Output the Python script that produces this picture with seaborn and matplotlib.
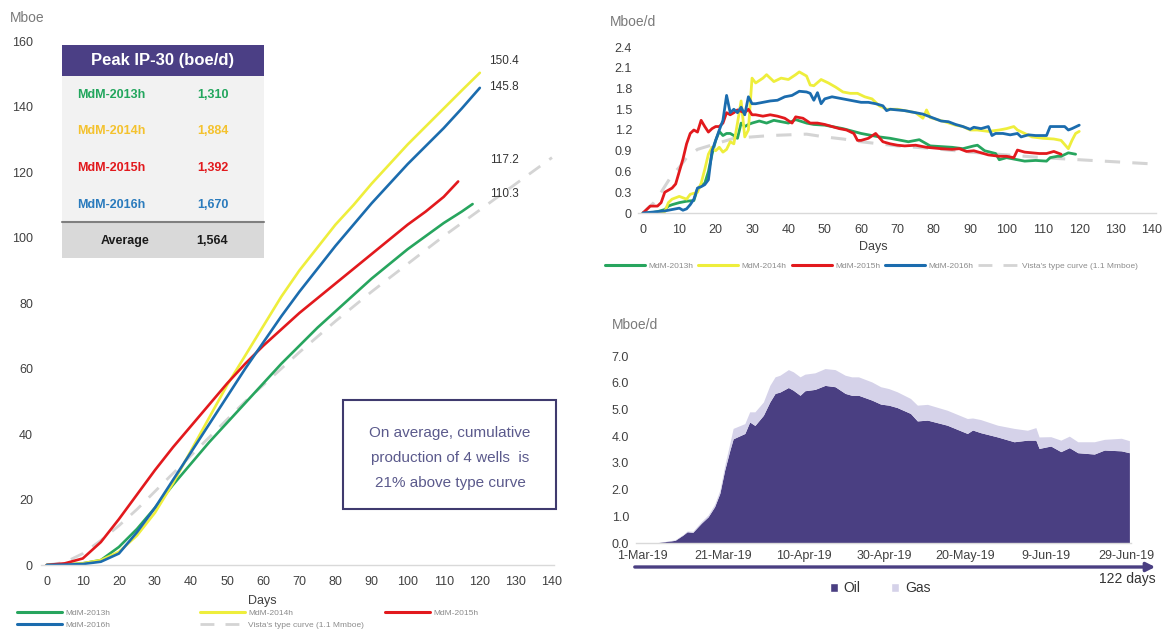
import matplotlib
matplotlib.use("Agg")
import matplotlib.pyplot as plt
import seaborn as sns
import pandas as pd
from matplotlib.lines import Line2D
from matplotlib.patches import Rectangle, Patch, FancyArrowPatch

# ---------------- data ----------------
wells = ["MdM-2013h", "MdM-2014h", "MdM-2015h", "MdM-2016h"]
type_label = "Vista's type curve (1.1 Mmboe)"
peak_ip30 = ["1,310", "1,884", "1,392", "1,670"]
avg_ip30 = "1,564"
end_labels = ["150.4", "145.8", "117.2", "110.3"]

# cumulative production (day, Mboe)
cum_2013 = [(0,0),(5,0.1),(10,0.5),(15,1.5),(20,5.5),(25,11),(30,17.5),(35,24.5),(40,31),(45,37.5),
            (50,43.5),(55,49.5),(60,55.5),(65,61.5),(70,67),(75,72.5),(80,77.5),(85,82.5),(90,87.5),
            (95,92),(100,96.5),(105,100.5),(110,104.5),(115,108),(118,110.3)]
cum_2014 = [(0,0),(5,0.2),(10,0.5),(15,1.5),(20,4),(25,9),(30,16),(35,25),(40,35),(45,45),(50,55),
            (55,64),(60,73),(65,82),(70,90),(75,97),(80,104),(85,110),(90,116.5),(95,122.5),
            (100,128.5),(105,134),(110,139.5),(115,145),(120,150.4)]
cum_2015 = [(0,0),(5,0.5),(10,2),(15,7),(20,14),(25,21.5),(30,29),(35,36),(40,42.5),(45,49),
            (50,55.5),(55,61.5),(60,67),(65,72),(70,77),(75,81.5),(80,86),(85,90.5),(90,95),
            (95,99.5),(100,104),(105,108),(110,112.5),(114,117.2)]
cum_2016 = [(0,0),(5,0.1),(10,0.3),(15,1),(20,3.5),(25,10),(30,17.5),(35,26),(40,34.5),(45,43),
            (50,51.5),(55,60),(60,68),(65,76),(70,83.5),(75,90.5),(80,97.5),(85,104),(90,110.5),
            (95,116.5),(100,122.5),(105,128),(110,133.5),(115,139.5),(120,145.8)]
cum_type = [(0,0),(5,0.8),(10,3.5),(15,7.5),(20,12),(25,17),(30,22.5),(35,28),(40,33.5),(45,39),
            (50,44.5),(55,50),(60,55),(70,65),(80,74.5),(90,83.5),(100,92),(110,100.5),(120,108.5),
            (130,116.5),(140,124.5)]

# daily rate (day, Mboe/d)
rate_2013 = [(0,0),(2,0),(4,0.02),(6,0.05),(7,0.1),(8,0.12),(10,0.15),(12,0.17),(14,0.18),(15,0.35),
             (16,0.4),(17,0.43),(18,0.6),(19,0.85),(20,1.05),(21,1.18),(22,1.12),(23,1.15),(24,1.15),
             (25,1.12),(26,1.08),(27,1.3),(28,1.25),(29,1.28),(30,1.3),(32,1.33),(34,1.3),(36,1.34),
             (38,1.32),(40,1.3),(42,1.35),(45,1.3),(47,1.28),(50,1.27),(55,1.22),(60,1.15),(65,1.1),
             (68,1.08),(73,1.03),(76,1.06),(79,0.97),(82,0.96),(85,0.95),(88,0.93),(91,0.97),(92,0.98),
             (94,0.9),(97,0.86),(98,0.77),(100,0.8),(102,0.78),(105,0.75),(108,0.76),(111,0.75),
             (112,0.8),(114,0.82),(115,0.82),(117,0.87),(118,0.86),(119,0.85)]
rate_2014 = [(0,0),(2,0),(4,0),(6,0.02),(7,0.15),(8,0.2),(10,0.24),(11,0.22),(12,0.2),(13,0.27),
             (15,0.3),(16,0.43),(17,0.63),(18,0.85),(19,0.95),(20,0.9),(21,0.95),(22,0.88),(23,0.92),
             (24,1.03),(25,1.0),(26,1.3),(27,1.62),(28,1.1),(29,1.2),(30,1.95),(31,1.88),(33,1.95),
             (34,2.0),(36,1.9),(38,1.95),(40,1.93),(42,2.0),(43,2.04),(45,1.98),(46,1.85),(47,1.84),
             (49,1.93),(51,1.88),(53,1.82),(55,1.75),(57,1.73),(59,1.73),(61,1.68),(63,1.65),(65,1.55),
             (67,1.5),(70,1.5),(73,1.47),(75,1.45),(77,1.37),(78,1.49),(79,1.38),(81,1.35),(83,1.32),
             (86,1.27),(88,1.25),(90,1.2),(92,1.2),(95,1.18),(98,1.2),(100,1.22),(102,1.25),(103,1.2),
             (105,1.15),(107,1.1),(110,1.08),(113,1.07),(115,1.05),(117,0.93),(118,1.05),(119,1.15),
             (120,1.18)]
rate_2015 = [(0,0),(1,0.05),(2,0.1),(4,0.1),(5,0.15),(6,0.3),(7,0.33),(8,0.36),(9,0.42),(10,0.6),
             (11,0.78),(12,1.0),(13,1.15),(14,1.2),(15,1.17),(16,1.34),(17,1.25),(18,1.17),(19,1.22),
             (20,1.25),(21,1.25),(22,1.3),(23,1.45),(24,1.42),(25,1.45),(26,1.49),(27,1.47),(28,1.45),
             (29,1.5),(30,1.42),(31,1.42),(33,1.4),(35,1.42),(37,1.4),(39,1.37),(41,1.3),(42,1.39),
             (44,1.37),(46,1.3),(48,1.3),(50,1.28),(52,1.25),(54,1.22),(56,1.2),(58,1.15),(59,1.05),
             (60,1.05),(62,1.08),(64,1.15),(66,1.03),(68,1.0),(70,0.98),(72,0.97),(75,0.98),(78,0.95),
             (80,0.94),(82,0.93),(85,0.92),(87,0.93),(89,0.89),(91,0.9),(93,0.87),(95,0.84),(98,0.82),
             (100,0.82),(102,0.8),(103,0.91),(105,0.88),(107,0.87),(109,0.86),(111,0.86),(113,0.89),
             (115,0.85)]
rate_2016 = [(0,0),(2,0.01),(4,0.02),(6,0.03),(8,0.05),(10,0.07),(11,0.04),(12,0.06),(13,0.12),
             (14,0.2),(15,0.36),(16,0.38),(17,0.41),(18,0.48),(19,0.9),(20,1.05),(21,1.2),(22,1.34),
             (23,1.7),(24,1.45),(25,1.5),(26,1.45),(27,1.53),(28,1.42),(29,1.68),(30,1.58),(31,1.58),
             (33,1.6),(35,1.62),(37,1.63),(39,1.68),(41,1.7),(43,1.76),(45,1.75),(46,1.73),(47,1.63),
             (48,1.74),(49,1.58),(50,1.65),(52,1.68),(54,1.66),(57,1.63),(60,1.6),(62,1.6),(64,1.58),
             (66,1.55),(67,1.48),(68,1.5),(70,1.49),(72,1.48),(75,1.45),(77,1.43),(80,1.37),(82,1.33),
             (84,1.32),(86,1.28),(88,1.25),(90,1.21),(91,1.24),(93,1.22),(95,1.25),(96,1.12),(97,1.15),
             (99,1.15),(101,1.13),(103,1.15),(104,1.1),(106,1.13),(108,1.12),(110,1.12),(111,1.12),
             (112,1.25),(114,1.25),(116,1.25),(117,1.2),(118,1.22),(120,1.27)]
rate_type = [(0,0),(3,0.15),(5,0.3),(8,0.55),(10,0.66),(12,0.8),(15,0.92),(20,1.0),(25,1.08),(30,1.1),
             (35,1.12),(40,1.13),(45,1.14),(50,1.1),(55,1.07),(60,1.03),(70,0.97),(80,0.93),(90,0.88),
             (100,0.84),(110,0.8),(120,0.77),(130,0.74),(140,0.71)]

# field production from 1-Mar-19 (day, oil Mboe/d, gas Mboe/d)
field_days = [0, 4, 6, 8, 10, 11, 12.4, 14.5, 16.2, 17.8, 19.1, 20.3, 21.6, 22.4, 25.3, 26.5, 27.8,
              29.9, 31.5, 32.8, 34, 36.1, 37.3, 39, 40.2, 42.7, 45.2, 47.7, 50.2, 51.8, 53.5, 56.8,
              59, 61, 63.1, 66.4, 68.1, 70.6, 75.5, 80.5, 81.8, 83.8, 88, 92.1, 95.4, 97.5, 98.3,
              101.2, 103.7, 105.8, 107.9, 112, 114.5, 118.7, 120.7]
oil = [0, 0.02, 0.06, 0.1, 0.3, 0.42, 0.4, 0.74, 0.98, 1.36, 1.86, 2.73, 3.48, 3.9, 4.1, 4.53, 4.4,
       4.78, 5.28, 5.6, 5.65, 5.82, 5.72, 5.53, 5.7, 5.75, 5.9, 5.85, 5.6, 5.53, 5.53, 5.35,
       5.2, 5.16, 5.07, 4.85, 4.57, 4.6, 4.41, 4.1, 4.23, 4.13, 3.97, 3.79, 3.85, 3.85, 3.54,
       3.63, 3.42, 3.57, 3.38, 3.33, 3.48, 3.45, 3.38]
gas = [0, 0, 0.01, 0.02, 0.02, 0.03, 0.04, 0.06, 0.07, 0.09, 0.12, 0.17, 0.27, 0.39, 0.37, 0.38, 0.51,
       0.5, 0.62, 0.62, 0.63, 0.67, 0.69, 0.69, 0.62, 0.62, 0.63, 0.64, 0.68, 0.69, 0.69, 0.68,
       0.65, 0.62, 0.59, 0.56, 0.59, 0.59, 0.56, 0.56, 0.45, 0.49, 0.44, 0.5, 0.37, 0.47, 0.43,
       0.35, 0.43, 0.43, 0.41, 0.46, 0.4, 0.47, 0.45]
date_ticks = [0, 20, 40, 60, 80, 100, 120]
date_labels = ["1-Mar-19", "21-Mar-19", "10-Apr-19", "30-Apr-19", "20-May-19", "9-Jun-19", "29-Jun-19"]

# ---------------- style ----------------
sns.set_theme(style="white")
plt.rcParams["font.family"] = ["Liberation Sans", "DejaVu Sans"]

well_colors = ["#27a55e", "#eeee3c", "#e2191d", "#1b6cae"]
text_colors = ["#22a65d", "#f4c22e", "#e2191d", "#2a7bbd"]
type_color = "#d4d4d4"
purple = "#4a3f82"
gas_color = "#d5d2e9"
tick_color = "#404040"

W, H = 1166, 630
fig = plt.figure(figsize=(W / 100, H / 100), dpi=100)


def fx(px):
    return px / W


def fy(py):
    return 1 - py / H


def add_ax(l, t, r, b):
    return fig.add_axes([fx(l), fy(b), (r - l) / W, (b - t) / H])


def to_df(pairs):
    d, v = zip(*pairs)
    return pd.DataFrame({"day": d, "val": v})


def style_ax(ax, xpad, ypad):
    for s in ["top", "right", "left"]:
        ax.spines[s].set_visible(False)
    ax.spines["bottom"].set_color("#d9d9d9")
    ax.spines["bottom"].set_linewidth(1.0)
    ax.tick_params(axis="both", length=0, labelsize=9, colors=tick_color)
    ax.tick_params(axis="x", pad=xpad)
    ax.tick_params(axis="y", pad=ypad)
    ax.set_xlabel("")
    ax.set_ylabel("")
    ax.grid(False)


# ---------------- left: cumulative ----------------
axL = add_ax(41.3, 41.4, 553.8, 565)
cums = [cum_2013, cum_2014, cum_2015, cum_2016]
sns.lineplot(data=to_df(cum_type), x="day", y="val", color=type_color, lw=2.0, ax=axL,
             estimator=None, sort=False)
axL.lines[-1].set_dashes([5, 4])
for pairs, c in zip(cums, well_colors):
    sns.lineplot(data=to_df(pairs), x="day", y="val", color=c, lw=1.9, ax=axL,
                 estimator=None, sort=False)
axL.set_xlim(-1.5, 140.5)
axL.set_ylim(0, 160)
axL.set_xticks(range(0, 141, 10))
axL.set_yticks(range(0, 161, 20))
style_ax(axL, 8, 6)

label_y = [154.0, 146.1, 123.8, 113.4]
for txt, yy in zip(end_labels, label_y):
    axL.text(126.7, yy, txt, ha="center", va="center", fontsize=8.5, color="#333333")

fig.text(fx(10), fy(18), "Mboe", ha="left", va="center", fontsize=10, color="#7a7a7a")
fig.text(fx(262), fy(601), "Days", ha="center", va="center", fontsize=9, color="#404040")

# legend items of left chart
h_wells = [Line2D([], [], color=c, lw=2.2) for c in well_colors]
h_type = Line2D([], [], color=type_color, lw=2.0, dashes=[5, 4])
left_items = [(h_wells[0], wells[0], 17, 613), (h_wells[1], wells[1], 200, 613),
              (h_wells[2], wells[2], 385, 613), (h_wells[3], wells[3], 17, 625),
              (h_type, type_label, 200, 625)]
for h, lab, x, y in left_items:
    fig.legend(handles=[h], labels=[lab], loc="center left", bbox_to_anchor=(fx(x), fy(y)),
               frameon=False, fontsize=6, handlelength=5.4, handletextpad=0.4,
               borderpad=0, borderaxespad=0, labelcolor="#8c8c8c")

# table
tl, tr = 62, 264
fig.add_artist(Rectangle((fx(tl), fy(76)), (tr - tl) / W, 31 / H, transform=fig.transFigure,
                         facecolor="#4b3f85", edgecolor="none"))
fig.add_artist(Rectangle((fx(tl), fy(222)), (tr - tl) / W, 146 / H, transform=fig.transFigure,
                         facecolor="#f2f2f2", edgecolor="none"))
fig.add_artist(Rectangle((fx(tl), fy(258)), (tr - tl) / W, 36 / H, transform=fig.transFigure,
                         facecolor="#d9d9d9", edgecolor="none"))
fig.add_artist(Line2D([fx(tl), fx(tr)], [fy(222), fy(222)], transform=fig.transFigure,
                      color="#7f7f7f", lw=1.5))
fig.text(fx(163), fy(61), "Peak IP-30 (boe/d)", ha="center", va="center", fontsize=12,
         fontweight="bold", color="white")
row_y = [95, 131.5, 168, 205]
for name, val, c, y in zip(wells, peak_ip30, text_colors, row_y):
    fig.text(fx(77), fy(y), name, ha="left", va="center", fontsize=9, fontweight="bold", color=c)
    fig.text(fx(212.5), fy(y), val, ha="center", va="center", fontsize=9, fontweight="bold", color=c)
fig.text(fx(125), fy(241), "Average", ha="center", va="center", fontsize=9, fontweight="bold",
         color="#1a1a1a")
fig.text(fx(212.5), fy(241), avg_ip30, ha="center", va="center", fontsize=9, fontweight="bold",
         color="#1a1a1a")

# annotation box
fig.add_artist(Rectangle((fx(343), fy(509)), (556 - 343) / W, (509 - 400) / H,
                         transform=fig.transFigure, facecolor="white", edgecolor="#3f3a6e", lw=1.5))
fig.text(fx(450), fy(458), "On average, cumulative\nproduction of 4 wells  is\n21% above type curve",
         ha="center", va="center", fontsize=11, color="#5b5a8c", linespacing=2.0)

# ---------------- top right: daily rate ----------------
axR = add_ax(637.5, 47, 1155.6, 213)
sns.lineplot(data=to_df(rate_type), x="day", y="val", color=type_color, lw=2.2, ax=axR,
             estimator=None, sort=False)
axR.lines[-1].set_dashes([5, 4])
for pairs, c in zip([rate_2013, rate_2014, rate_2015, rate_2016], well_colors):
    sns.lineplot(data=to_df(pairs), x="day", y="val", color=c, lw=2.0, ax=axR,
                 estimator=None, sort=False)
axR.set_xlim(-1.5, 141)
axR.set_ylim(0, 2.4)
axR.set_xticks(range(0, 141, 10))
axR.set_yticks([0, 0.3, 0.6, 0.9, 1.2, 1.5, 1.8, 2.1, 2.4])
axR.set_yticklabels(["0", "0.3", "0.6", "0.9", "1.2", "1.5", "1.8", "2.1", "2.4"])
style_ax(axR, 8, 4)
fig.text(fx(610), fy(22), "Mboe/d", ha="left", va="center", fontsize=10, color="#7a7a7a")
fig.text(fx(873), fy(247), "Days", ha="center", va="center", fontsize=9, color="#404040")
fig.legend(handles=h_wells + [h_type], labels=wells + [type_label], ncol=5, loc="center left",
           bbox_to_anchor=(fx(605), fy(266)), frameon=False, fontsize=6, handlelength=4.8,
           handletextpad=0.4, columnspacing=0.6, borderpad=0, borderaxespad=0,
           labelcolor="#8c8c8c")

# ---------------- bottom right: field production ----------------
axB = add_ax(636, 356, 1130.6, 543)
axB.stackplot(field_days, oil, gas, colors=[purple, gas_color], lw=0)
axB.set_xlim(-1.7, 121)
axB.set_ylim(0, 7.0)
axB.set_xticks(date_ticks)
axB.set_xticklabels(date_labels)
axB.set_yticks([0, 1, 2, 3, 4, 5, 6, 7])
axB.set_yticklabels([f"{v:.1f}" for v in range(8)])
style_ax(axB, 5, 5)
fig.text(fx(612), fy(325), "Mboe/d", ha="left", va="center", fontsize=10, color="#7a7a7a")

fig.add_artist(FancyArrowPatch((fx(632), fy(567)), (fx(1158), fy(567)), transform=fig.transFigure,
                               arrowstyle="-|>", mutation_scale=13, lw=2.4, color=purple))
fig.text(fx(1127), fy(579), "122 days", ha="center", va="center", fontsize=10, color="#333333")
fig.legend(handles=[Patch(facecolor=purple), Patch(facecolor=gas_color)], labels=["Oil", "Gas"],
           ncol=2, loc="center", bbox_to_anchor=(fx(880), fy(588)), frameon=False, fontsize=10,
           handlelength=0.6, handleheight=0.6, handletextpad=0.4, columnspacing=2.2,
           borderpad=0, borderaxespad=0, labelcolor="#333333")

fig.savefig("out.png", dpi=100)
